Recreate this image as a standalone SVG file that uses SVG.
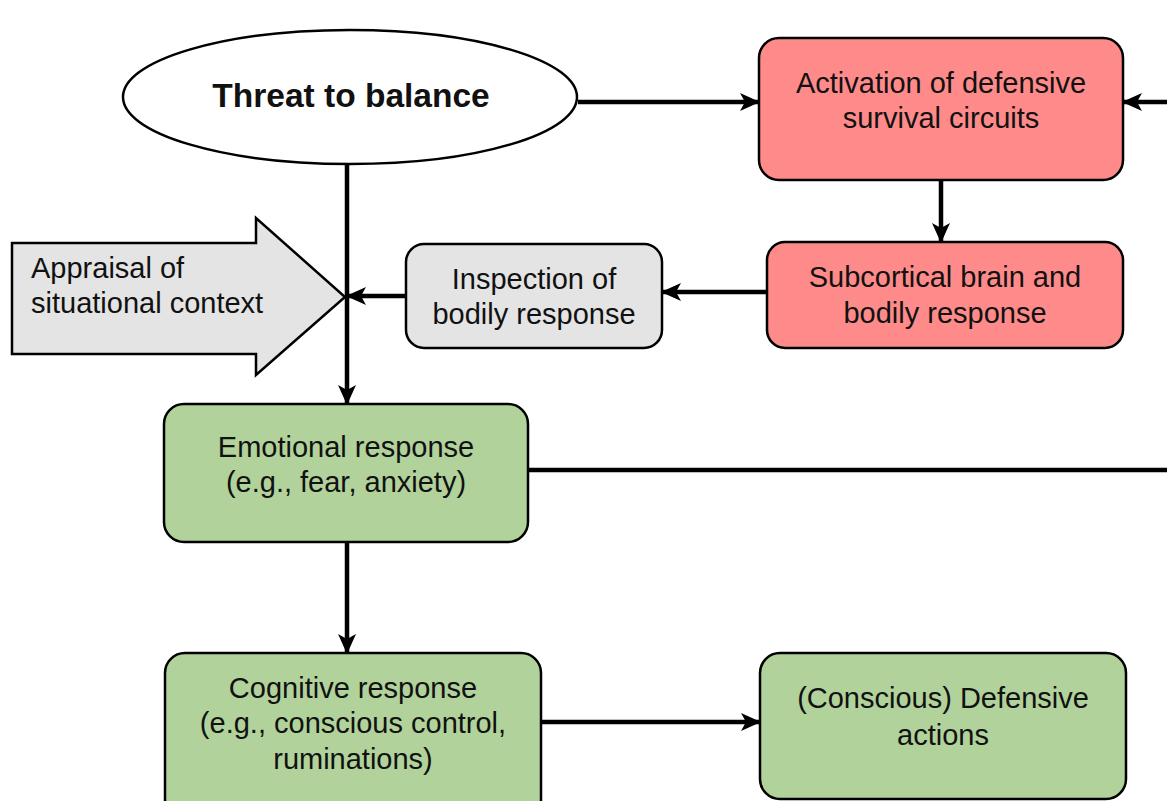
<svg xmlns="http://www.w3.org/2000/svg" width="1167" height="801" viewBox="0 0 1167 801">
<style>
.box{stroke:#000;stroke-width:2.5}
.red{fill:#FF8A8A}
.green{fill:#B1D39B}
.gray{fill:#E4E4E4}
.t{font-family:"Liberation Sans",Arial,sans-serif;font-size:29px;fill:#111;text-anchor:middle}
.c{stroke:#000;stroke-width:4.5;fill:none}
</style>
<defs>
<marker id="ah" markerUnits="userSpaceOnUse" markerWidth="20" markerHeight="20" viewBox="0 0 20 20" refX="19" refY="10" orient="auto">
<path d="M0,1 L20,10 L0,19 L5,10 Z" fill="#000"/>
</marker>
</defs>
<rect width="1167" height="801" fill="#fff"/>
<g id="connectors">
<line class="c" x1="578" y1="102" x2="759" y2="102" marker-end="url(#ah)"/>
<line class="c" x1="1167" y1="102" x2="1123" y2="102" marker-end="url(#ah)"/>
<line class="c" x1="941" y1="180" x2="941" y2="242" marker-end="url(#ah)"/>
<line class="c" x1="767" y1="292" x2="662" y2="292" marker-end="url(#ah)"/>
<line class="c" x1="406" y1="296" x2="347" y2="296" marker-end="url(#ah)"/>
<line class="c" x1="347" y1="164" x2="347" y2="404" marker-end="url(#ah)"/>
<line class="c" x1="528" y1="470" x2="1167" y2="470"/>
<line class="c" x1="347" y1="542" x2="347" y2="653" marker-end="url(#ah)"/>
<line class="c" x1="541" y1="722" x2="760" y2="722" marker-end="url(#ah)"/>
</g>
<g id="threat">
<ellipse cx="350" cy="97" rx="227" ry="67" fill="#fff" class="box"/>
<text class="t" x="351" y="107" style="font-weight:bold;font-size:33.5px">Threat to balance</text>
</g>
<g id="activation">
<rect class="box red" x="759" y="38" width="364" height="142" rx="20"/>
<text class="t" x="941" y="93">Activation of defensive</text>
<text class="t" x="941" y="128">survival circuits</text>
</g>
<g id="subcortical">
<rect class="box red" x="767" y="242" width="356" height="106" rx="18"/>
<text class="t" x="945" y="287">Subcortical brain and</text>
<text class="t" x="945" y="323">bodily response</text>
</g>
<g id="inspection">
<rect class="box gray" x="406" y="244" width="256" height="104" rx="18"/>
<text class="t" x="534" y="289">Inspection of</text>
<text class="t" x="534" y="324">bodily response</text>
</g>
<g id="appraisal">
<path class="box gray" d="M12,243 L256,243 L256,218 L345,297 L256,375 L256,354 L12,354 Z"/>
<text class="t" x="31" y="278" style="text-anchor:start">Appraisal of</text>
<text class="t" x="31" y="313" style="text-anchor:start">situational context</text>
</g>
<g id="emotional">
<rect class="box green" x="164" y="404" width="364" height="138" rx="20"/>
<text class="t" x="346" y="457">Emotional response</text>
<text class="t" x="346" y="492">(e.g., fear, anxiety)</text>
</g>
<g id="cognitive">
<rect class="box green" x="165" y="653" width="376" height="170" rx="20"/>
<text class="t" x="353" y="698">Cognitive response</text>
<text class="t" x="353" y="733">(e.g., conscious control,</text>
<text class="t" x="353" y="769">ruminations)</text>
</g>
<g id="defensive">
<rect class="box green" x="760" y="653" width="366" height="146" rx="20"/>
<text class="t" x="943" y="708">(Conscious) Defensive</text>
<text class="t" x="943" y="745">actions</text>
</g>
</svg>
